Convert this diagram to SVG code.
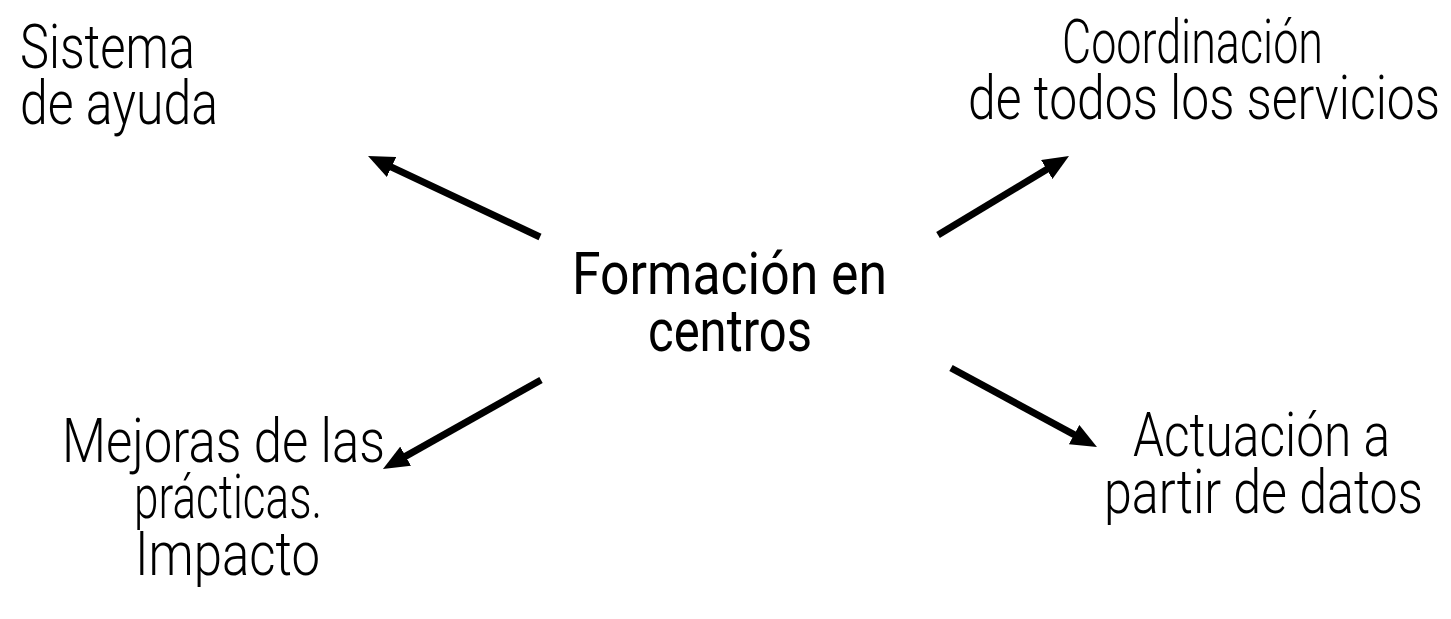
<svg xmlns="http://www.w3.org/2000/svg" width="1451" height="619" viewBox="0 0 1451 619">
<defs>
<style>
text{font-family:Roboto,"Liberation Sans",Arial,sans-serif;font-weight:300;font-size:62px;fill:#000}
.c{font-size:60px;font-weight:400}
.a{stroke:#000;stroke-width:7;fill:none;marker-end:url(#ah)}
</style>
<marker id="ah" viewBox="0 0 26 22" markerWidth="26" markerHeight="22" refX="10" refY="11" orient="auto" markerUnits="userSpaceOnUse">
<path d="M0,0 L26,11 L0,22 z" fill="#000"/>
</marker>
</defs>
<rect width="1451" height="619" fill="#fff"/>
<g id="connectors">
<line class="a" x1="540" y1="237" x2="382.5" y2="162.8"/>
<line class="a" x1="938" y1="235" x2="1055.3" y2="164.3"/>
<line class="a" x1="541" y1="380" x2="396.9" y2="461.1"/>
<line class="a" x1="951" y1="368" x2="1082.9" y2="439.4"/>
</g>
<g id="center">
<text class="c" x="572" y="294" textLength="315" lengthAdjust="spacingAndGlyphs">Formación en</text>
<text class="c" x="648" y="351" textLength="164" lengthAdjust="spacingAndGlyphs">centros</text>
</g>
<g id="sistema">
<text x="20" y="68" textLength="175" lengthAdjust="spacingAndGlyphs">Sistema</text>
<text x="20" y="124" textLength="198" lengthAdjust="spacingAndGlyphs">de ayuda</text>
</g>
<g id="coordinacion">
<text x="1062" y="63" textLength="261" lengthAdjust="spacingAndGlyphs">Coordinación</text>
<text x="968" y="119" textLength="472" lengthAdjust="spacingAndGlyphs">de todos los servicios</text>
</g>
<g id="mejoras">
<text x="62" y="462" textLength="323" lengthAdjust="spacingAndGlyphs">Mejoras de las</text>
<text x="134" y="518" textLength="188" lengthAdjust="spacingAndGlyphs">prácticas.</text>
<text x="135" y="575" textLength="185" lengthAdjust="spacingAndGlyphs">Impacto</text>
</g>
<g id="actuacion">
<text x="1133" y="456" textLength="257" lengthAdjust="spacingAndGlyphs">Actuación a</text>
<text x="1104" y="513" textLength="319" lengthAdjust="spacingAndGlyphs">partir de datos</text>
</g>
</svg>
